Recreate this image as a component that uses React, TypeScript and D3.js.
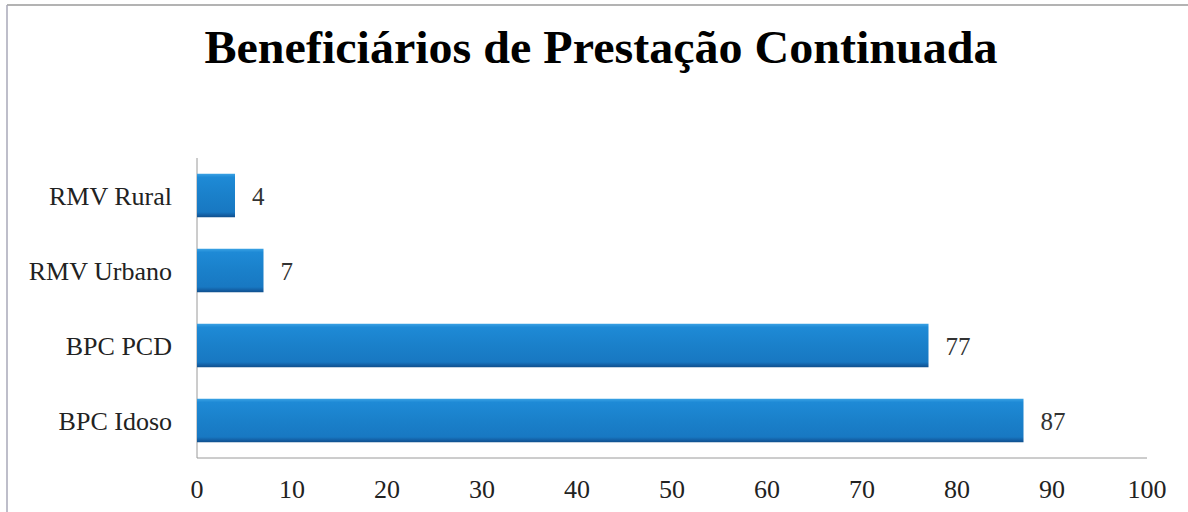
import React from "react";
import * as d3 from "d3";

const categories = ["RMV Rural", "RMV Urbano", "BPC PCD", "BPC Idoso"];
const values = [4, 7, 77, 87];
const xTicks = [0, 10, 20, 30, 40, 50, 60, 70, 80, 90, 100];
const title = "Beneficiários de Prestação Continuada";

const W = 1188;
const H = 512;
const left = 197;
const right = 1147;
const top = 158;
const bottom = 458;

export default function App() {
  const x = d3.scaleLinear().domain([0, 100]).range([left, right]);
  const y = d3.scaleBand<string>().domain(categories).range([top, bottom]).paddingInner(0.42).paddingOuter(0.21);
  const font = "'Liberation Serif', 'Times New Roman', serif";
  return (
    <svg width={W} height={H} style={{ position: "absolute", left: 0, top: 0, background: "#fff" }}>
      <defs>
        <linearGradient id="barGrad" x1="0" y1="0" x2="0" y2="1">
          <stop offset="0" stopColor="#3aa2e4" />
          <stop offset="0.08" stopColor="#1e8ad6" />
          <stop offset="0.5" stopColor="#1a80ca" />
          <stop offset="0.88" stopColor="#1878c2" />
          <stop offset="0.95" stopColor="#135fa4" />
          <stop offset="1" stopColor="#0f4f8c" />
        </linearGradient>
      </defs>
      <rect x={0} y={0} width={W} height={H} fill="#fff" />
      {/* frame */}
      <line x1={7} x2={W} y1={5} y2={5} stroke="#9a9a9a" strokeWidth={1.5} />
      <line x1={7} x2={7} y1={5} y2={H} stroke="#a8a8b8" strokeWidth={1.5} />
      <text
        x={601}
        y={63}
        textAnchor="middle"
        fontFamily={font}
        fontWeight="bold"
        fontSize={47}
        fill="#000"
        textLength={793}
        lengthAdjust="spacingAndGlyphs"
      >
        {title}
      </text>
      {/* axes */}
      <line x1={x(0)} x2={x(0)} y1={top} y2={bottom} stroke="#9a9a9a" strokeWidth={1} />
      <line x1={x(0)} x2={right} y1={bottom} y2={bottom} stroke="#9a9a9a" strokeWidth={1} />
      {categories.map((c, i) => {
        const yy = y(c)!;
        const bw = y.bandwidth();
        return (
          <g key={c}>
            <rect x={x(0)} y={yy} width={x(values[i]) - x(0)} height={bw} fill="url(#barGrad)" />
            <text x={172} y={yy + bw / 2 + 9} textAnchor="end" fontFamily={font} fontSize={26} fill="#222">
              {c}
            </text>
            <text x={x(values[i]) + 17} y={yy + bw / 2 + 9} textAnchor="start" fontFamily={font} fontSize={25} fill="#333">
              {values[i]}
            </text>
          </g>
        );
      })}
      {xTicks.map((t) => (
        <text key={t} x={x(t)} y={498} textAnchor="middle" fontFamily={font} fontSize={26} fill="#222">
          {t}
        </text>
      ))}
    </svg>
  );
}
